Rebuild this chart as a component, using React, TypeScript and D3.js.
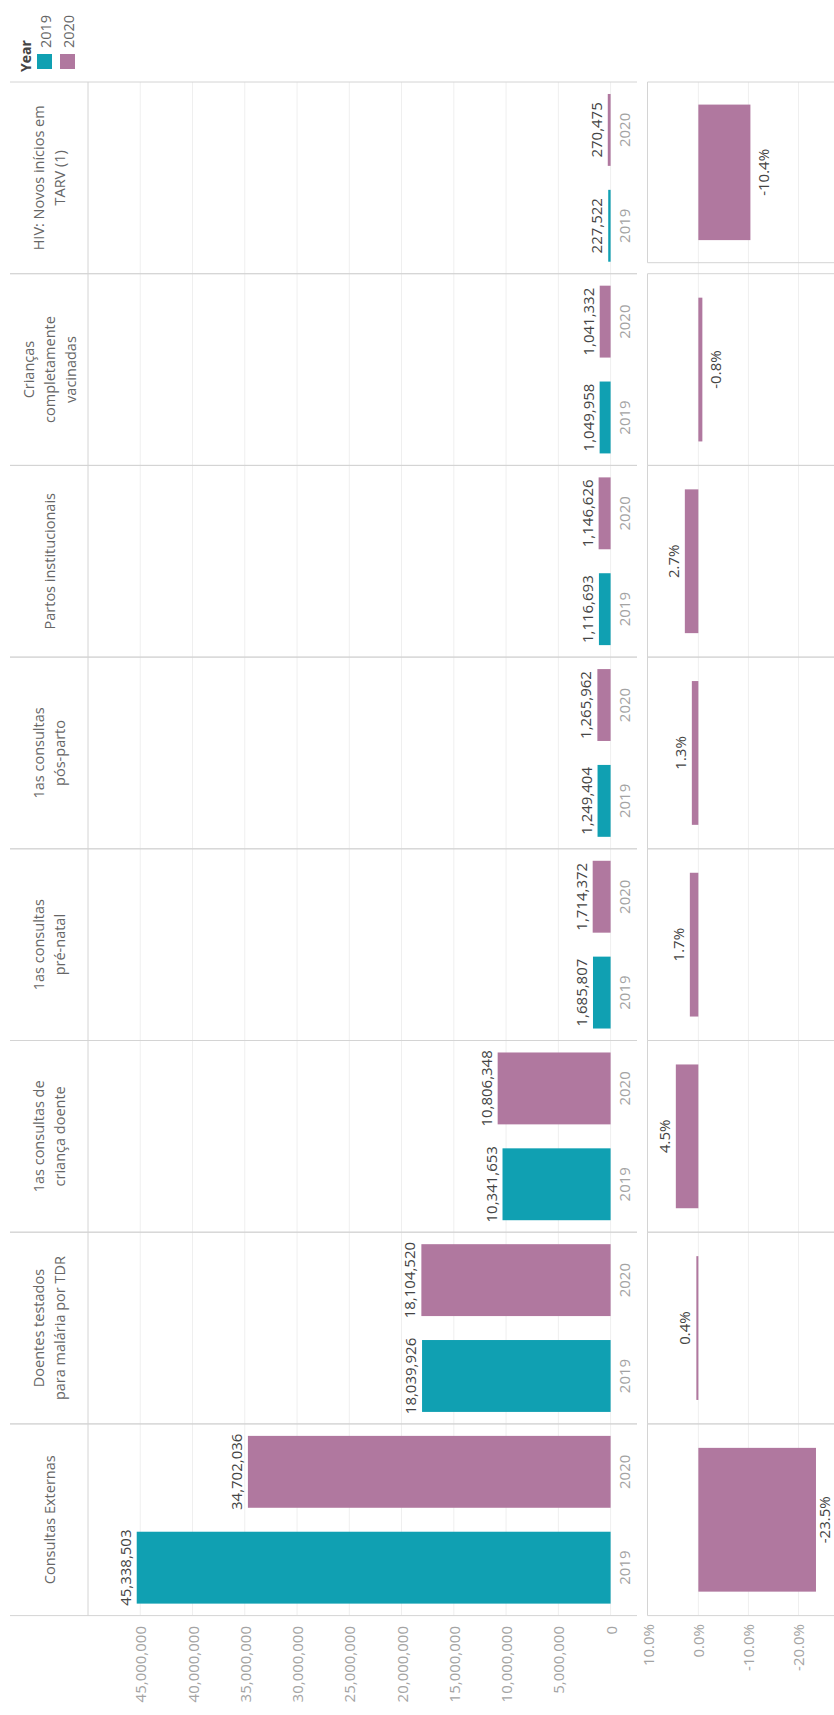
import React from "react";
import * as d3 from "d3";

// ---- data (first category = bottom of the picture) ----
const categories: string[][] = [
  ["Consultas Externas"],
  ["Doentes testados", "para malária por TDR"],
  ["1as consultas de", "criança doente"],
  ["1as consultas", "pré-natal"],
  ["1as consultas", "pós-parto"],
  ["Partos institucionais"],
  ["Crianças", "completamente", "vacinadas"],
  ["HIV: Novos inícios em", "TARV (1)"],
];
const years = ["2019", "2020"];
const values2019 = [45338503, 18039926, 10341653, 1685807, 1249404, 1116693, 1049958, 227522];
const values2020 = [34702036, 18104520, 10806348, 1714372, 1265962, 1146626, 1041332, 270475];
const pctChange = [-23.5, 0.4, 4.5, 1.7, 1.3, 2.7, -0.8, -10.4];
const valueTicks = [0, 5e6, 10e6, 15e6, 20e6, 25e6, 30e6, 35e6, 40e6, 45e6];
const pctTicks = [10, 0, -10, -20];

const COLORS: Record<string, string> = { "2019": "#10a0b2", "2020": "#b0789f" };
const FONT = "'Open Sans', 'Noto Sans', sans-serif";

export default function App() {
  const W = 834;
  const H = 1715;
  const top = 82;
  const bottom = 1615.6;
  const headerLeft = 10;
  const headerRight = 88;
  const zeroX = 610.6;
  const leftAreaRight = 637;
  const pctLeft = 647.5;
  const pctRight = 834;

  const keys = categories.map((c) => c.join(" "));
  const yBand = d3
    .scaleBand<string>()
    .domain([...keys].reverse())
    .range([top, bottom])
    .paddingInner(0)
    .paddingOuter(0);
  const bw = yBand.bandwidth();
  const yYear = d3
    .scaleBand<string>()
    .domain(["2020", "2019"])
    .range([0, bw])
    .paddingInner(0.25)
    .paddingOuter(0.125);

  const x = d3.scaleLinear().domain([0, 50e6]).range([zeroX, headerRight]);
  const xp = d3.scaleLinear().domain([10, -27.1]).range([648.3, 834]);
  const fmt = d3.format(",");
  const fmtP = (v: number) => d3.format(".1f")(v).replace("\u2212", "-") + "%";

  const gridColor = "#efefef";
  const borderColor = "#d4d4d4";

  const series: Record<string, number[]> = { "2019": values2019, "2020": values2020 };

  return (
    <div style={{ position: "absolute", left: 0, top: 0 }}>
      <svg width={W} height={H} style={{ display: "block", fontFamily: FONT, background: "#fff" }}>
        {/* legend */}
        <text
          transform={`translate(25,72) rotate(-90)`}
          fontSize={14}
          fontWeight={700}
          fill="#444"
          dominantBaseline="central"
        >
          Year
        </text>
        {years.map((yr, i) => (
          <g key={yr}>
            <rect x={37 + i * 23} y={54} width={15} height={15} fill={COLORS[yr]} />
            <text
              transform={`translate(${45 + i * 23},48) rotate(-90)`}
              fontSize={14.5}
              fill="#666"
              dominantBaseline="central"
            >
              {yr}
            </text>
          </g>
        ))}

        {/* left value gridlines */}
        {valueTicks.map((t) => (
          <line key={t} x1={x(t)} x2={x(t)} y1={top} y2={bottom} stroke={gridColor} strokeWidth={1} />
        ))}
        {/* pct gridlines */}
        {pctTicks.slice(1).map((t) => (
          <line key={t} x1={xp(t)} x2={xp(t)} y1={top} y2={bottom} stroke={gridColor} strokeWidth={1} />
        ))}

        {/* panel borders */}
        {keys.map((k, i) => {
          const y0 = yBand(k)!;
          const isTop = i === keys.length - 1;
          const pTop = y0;
          const pBot = isTop ? y0 + bw - 11 : y0 + bw;
          return (
            <g key={k}>
              <line x1={headerLeft} x2={leftAreaRight} y1={y0} y2={y0} stroke={borderColor} />
              <line x1={headerLeft} x2={leftAreaRight} y1={y0 + bw} y2={y0 + bw} stroke={borderColor} />
              <line x1={pctLeft} x2={pctRight} y1={pTop} y2={pTop} stroke={borderColor} />
              <line x1={pctLeft} x2={pctRight} y1={pBot} y2={pBot} stroke={borderColor} />
              <line x1={pctLeft} x2={pctLeft} y1={pTop} y2={pBot} stroke={borderColor} />
            </g>
          );
        })}
        <line x1={headerRight} x2={headerRight} y1={top} y2={bottom} stroke={borderColor} />

        {/* headers */}
        {categories.map((lines, i) => {
          const cy = yBand(keys[i])! + bw / 2;
          return lines.map((ln, j) => (
            <text
              key={keys[i] + j}
              transform={`translate(${49 + (j - (lines.length - 1) / 2) * 21},${cy}) rotate(-90)`}
              textAnchor="middle"
              dominantBaseline="central"
              fontSize={14.5}
              fill="#666"
            >
              {ln}
            </text>
          ));
        })}

        {/* bars */}
        {keys.map((k, i) =>
          years.map((yr) => {
            const v = series[yr][i];
            const y0 = yBand(k)! + yYear(yr)!;
            const h = yYear.bandwidth();
            return (
              <g key={k + yr}>
                <rect x={x(v)} y={y0} width={zeroX - x(v)} height={h} fill={COLORS[yr]} />
                <text
                  transform={`translate(${x(v) - 12},${y0 + h / 2}) rotate(-90)`}
                  textAnchor="middle"
                  dominantBaseline="central"
                  fontSize={15}
                  fill="#444"
                >
                  {fmt(v)}
                </text>
                <text
                  transform={`translate(${624},${y0 + h / 2}) rotate(-90)`}
                  textAnchor="middle"
                  dominantBaseline="central"
                  fontSize={15}
                  fill="#a3a3a3"
                >
                  {yr}
                </text>
              </g>
            );
          })
        )}

        {/* pct bars */}
        {keys.map((k, i) => {
          const v = pctChange[i];
          const isTop = i === keys.length - 1;
          const pTop = yBand(k)!;
          const pH = isTop ? bw - 11 : bw;
          const h = pH * 0.75;
          const cy = pTop + pH / 2;
          const x0 = Math.min(xp(0), xp(v));
          const w = Math.abs(xp(v) - xp(0));
          const lx = v >= 0 ? xp(v) - 12 : Math.min(xp(v) + 13, W - 10);
          return (
            <g key={"p" + k}>
              <rect x={x0} y={cy - h / 2} width={Math.max(w, 1.5)} height={h} fill={COLORS["2020"]} />
              <text
                transform={`translate(${lx},${cy}) rotate(-90)`}
                textAnchor="middle"
                dominantBaseline="central"
                fontSize={15}
                fill="#444"
              >
                {fmtP(v)}
              </text>
            </g>
          );
        })}

        {/* value axis labels */}
        {valueTicks.map((t) => (
          <text
            key={"vt" + t}
            transform={`translate(${x(t)},1626) rotate(-90)`}
            textAnchor="end"
            dominantBaseline="central"
            fontSize={15}
            fill="#a3a3a3"
          >
            {fmt(t)}
          </text>
        ))}
        {/* pct axis labels */}
        {pctTicks.map((t) => (
          <text
            key={"pt" + t}
            transform={`translate(${xp(t)},1624) rotate(-90)`}
            textAnchor="end"
            dominantBaseline="central"
            fontSize={15}
            fill="#a3a3a3"
          >
            {fmtP(t)}
          </text>
        ))}
      </svg>
    </div>
  );
}
